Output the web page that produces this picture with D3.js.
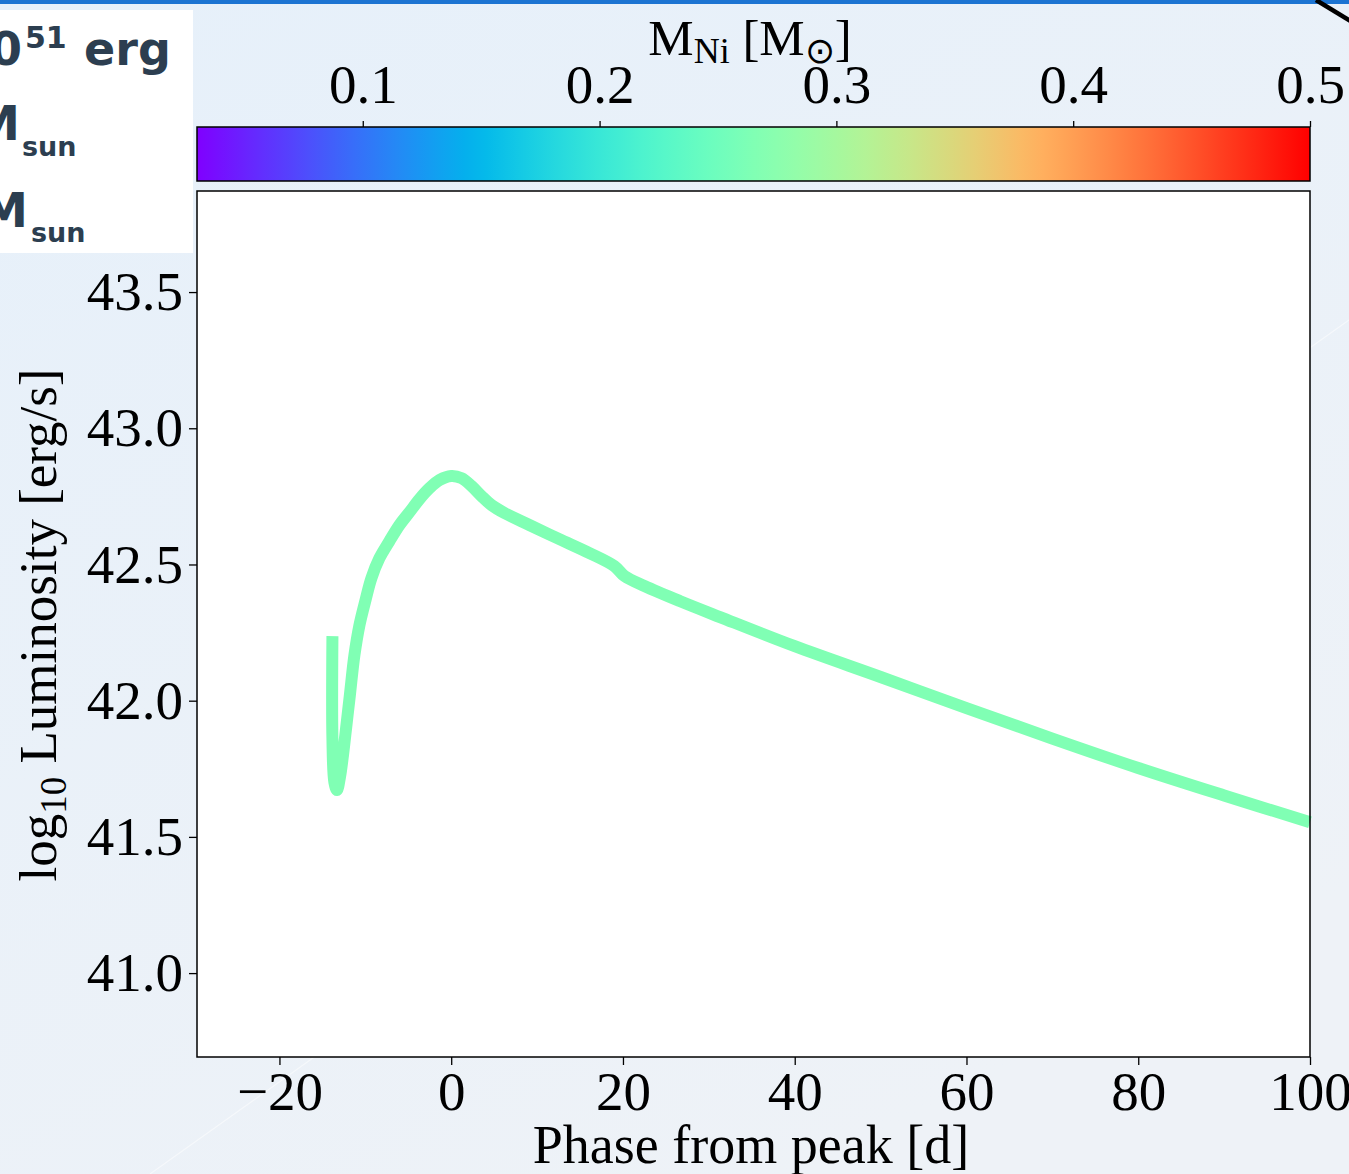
<!DOCTYPE html>
<html>
<head>
<meta charset="utf-8">
<script src="https://cdn.jsdelivr.net/npm/d3@7"></script>
<style>
  html, body { margin: 0; padding: 0; }
  body { width: 1349px; height: 1174px; overflow: hidden; }
  .serif { font-family: "Liberation Serif", "Times New Roman", serif; }
</style>
</head>
<body>
<div id="chart"></div>
<script>
// light curve (phase in days, log10 L in erg/s)
const phase = [-13.83, -13.83, -13.6, -13.3, -12.95, -12.6, -12.2, -11.8, -11.27, -10.68,
  -9.98, -9.29, -8.36, -7.19, -6.02, -4.86, -3.69, -2.53, -1.36, 0.0,
  1.2, 2.37, 3.53, 4.7, 6.2, 9.1, 12.6, 16.1, 19.0, 20.2,
  22.5, 26.6, 31.3, 40.0, 50.0, 60.0, 70.0, 80.0, 90.0, 100.0];
const logL = [42.237, 41.86, 41.70, 41.672, 41.72, 41.80, 41.91, 42.02, 42.167, 42.278,
  42.369, 42.450, 42.523, 42.586, 42.645, 42.692, 42.740, 42.780, 42.810, 42.825,
  42.817, 42.788, 42.751, 42.718, 42.689, 42.645, 42.593, 42.542, 42.494, 42.457,
  42.421, 42.366, 42.307, 42.200, 42.087, 41.973, 41.861, 41.753, 41.652, 41.554];
const mNi = 0.265;

const xTicks = [-20, 0, 20, 40, 60, 80, 100];
const yTicks = [41.0, 41.5, 42.0, 42.5, 43.0, 43.5];
const cbTicks = [0.1, 0.2, 0.3, 0.4, 0.5];
const cbDomain = [0.03, 0.5];

// cropped info panel (left edge falls outside the page)
const panelMain = ['0', 'M', 'M'];
const panelSub = ['51', 'sun', 'sun'];

const width = 1349, height = 1174;
const margin = { left: 197, right: 39, top: 191, bottom: 117 };
const plotW = width - margin.left - margin.right;
const plotH = height - margin.top - margin.bottom;

// matplotlib "rainbow" colormap
function rainbow(t) {
  const r = Math.min(1, Math.abs(2 * t - 0.5));
  const g = Math.sin(Math.PI * t);
  const b = Math.cos(Math.PI * t / 2);
  return d3.rgb(r * 255, g * 255, b * 255).formatHex();
}

const svg = d3.select('#chart').append('svg')
  .attr('width', width)
  .attr('height', height);

const defs = svg.append('defs');
const bg = defs.append('linearGradient').attr('id', 'bg')
  .attr('x1', '0%').attr('y1', '0%').attr('x2', '60%').attr('y2', '100%');
bg.append('stop').attr('offset', '0%').attr('stop-color', '#e6f0fa');
bg.append('stop').attr('offset', '100%').attr('stop-color', '#eef2f7');

svg.append('rect').attr('width', width).attr('height', height).attr('fill', 'url(#bg)');

// faint diagonal sheen
svg.append('line')
  .attr('x1', 150).attr('y1', 1174).attr('x2', 1349).attr('y2', 320)
  .attr('stroke', '#ffffff').attr('stroke-opacity', 0.5).attr('stroke-width', 1.2);

// top bar and stray stroke
svg.append('rect').attr('x', 0).attr('y', 0).attr('width', width).attr('height', 4).attr('fill', '#1c74d2');
svg.append('line')
  .attr('x1', 1316).attr('y1', 0).attr('x2', 1352).attr('y2', 22)
  .attr('stroke', '#000').attr('stroke-width', 4.5);

// info panel
const panel = svg.append('g');
panel.append('rect').attr('x', -20).attr('y', 10).attr('width', 213).attr('height', 243).attr('fill', '#ffffff');
const panelStyle = (s) => s.attr('fill', '#2c3e50').attr('font-family', '"DejaVu Sans", sans-serif').attr('font-weight', 'bold');
panel.append('text').call(panelStyle).attr('x', 22).attr('y', 65).attr('text-anchor', 'end').attr('font-size', 46).text(panelMain[0]);
panel.append('text').call(panelStyle).attr('x', 25).attr('y', 48).attr('font-size', 30).text(panelSub[0]);
panel.append('text').call(panelStyle).attr('x', 84).attr('y', 65).attr('font-size', 46).text('erg');
panel.append('text').call(panelStyle).attr('x', 20).attr('y', 140).attr('text-anchor', 'end').attr('font-size', 48).text(panelMain[1]);
panel.append('text').call(panelStyle).attr('x', 22).attr('y', 156).attr('font-size', 27).text(panelSub[1]);
panel.append('text').call(panelStyle).attr('x', 28).attr('y', 227).attr('text-anchor', 'end').attr('font-size', 48).text(panelMain[2]);
panel.append('text').call(panelStyle).attr('x', 31).attr('y', 242).attr('font-size', 27).text(panelSub[2]);

// scales
const x = d3.scaleLinear().domain([-29.6, 100]).range([0, plotW]);
const y = d3.scaleLinear().domain([40.692, 43.871]).range([plotH, 0]);
const c = d3.scaleLinear().domain(cbDomain).range([0, plotW]);

// colorbar
const cbTop = 127, cbH = 54;
const grad = defs.append('linearGradient').attr('id', 'cb').attr('x1', '0%').attr('x2', '100%');
d3.range(0, 1.0001, 0.02).forEach((t) => {
  grad.append('stop').attr('offset', `${t * 100}%`).attr('stop-color', rainbow(t));
});
const cb = svg.append('g').attr('transform', `translate(${margin.left},${cbTop})`);
cb.append('rect').attr('width', plotW).attr('height', cbH)
  .attr('fill', 'url(#cb)').attr('stroke', '#000').attr('stroke-width', 1.5);
const cbAxis = cb.append('g')
  .call(d3.axisTop(c).tickValues(cbTicks).tickFormat(d3.format('.1f')).tickSize(6).tickPadding(18));
cbAxis.select('.domain').remove();
cbAxis.selectAll('line').attr('stroke-width', 1.3);
cbAxis.selectAll('text').attr('class', 'serif').attr('font-size', 55).attr('fill', '#000');

const cbLabel = svg.append('text').attr('class', 'serif')
  .attr('x', 750).attr('y', 55).attr('text-anchor', 'middle').attr('font-size', 51).attr('fill', '#000');
cbLabel.append('tspan').text('M');
cbLabel.append('tspan').attr('font-size', 36).attr('dy', 8).text('Ni');
cbLabel.append('tspan').attr('dy', -8).text(' [M');
cbLabel.append('tspan').attr('font-size', 36).attr('dy', 8).text('\u2299');
cbLabel.append('tspan').attr('dy', -8).text(']');

// main panel
const g = svg.append('g').attr('transform', `translate(${margin.left},${margin.top})`);
g.append('rect').attr('width', plotW).attr('height', plotH).attr('fill', '#ffffff');

const line = d3.line()
  .x((d, i) => x(phase[i]))
  .y((d, i) => y(logL[i]))
  .curve(d3.curveCatmullRom.alpha(0.5));
g.append('path')
  .datum(phase)
  .attr('d', line)
  .attr('fill', 'none')
  .attr('stroke', rainbow((mNi - cbDomain[0]) / (cbDomain[1] - cbDomain[0])))
  .attr('stroke-width', 12)
  .attr('stroke-linejoin', 'round')
  .attr('stroke-linecap', 'butt');

const xAxis = g.append('g').attr('transform', `translate(0,${plotH})`)
  .call(d3.axisBottom(x).tickValues(xTicks).tickFormat(d3.format('d')).tickSize(8).tickPadding(6));
const yAxis = g.append('g')
  .call(d3.axisLeft(y).tickValues(yTicks).tickFormat(d3.format('.1f')).tickSize(8).tickPadding(6));
[xAxis, yAxis].forEach((a) => {
  a.select('.domain').remove();
  a.selectAll('line').attr('stroke-width', 1.3);
  a.selectAll('text').attr('class', 'serif').attr('font-size', 55).attr('fill', '#000');
});

g.append('rect').attr('width', plotW).attr('height', plotH)
  .attr('fill', 'none').attr('stroke', '#000').attr('stroke-width', 1.5);

// axis labels
svg.append('text').attr('class', 'serif')
  .attr('x', 751).attr('y', 1163).attr('text-anchor', 'middle').attr('font-size', 54).attr('fill', '#000')
  .text('Phase from peak [d]');

const yLabel = svg.append('text').attr('class', 'serif')
  .attr('transform', 'translate(56,625) rotate(-90)')
  .attr('text-anchor', 'middle').attr('font-size', 53).attr('fill', '#000');
yLabel.append('tspan').text('log');
yLabel.append('tspan').attr('font-size', 37).attr('dy', 10).text('10');
yLabel.append('tspan').attr('dy', -10).text(' Luminosity [erg/s]');
</script>
</body>
</html>
